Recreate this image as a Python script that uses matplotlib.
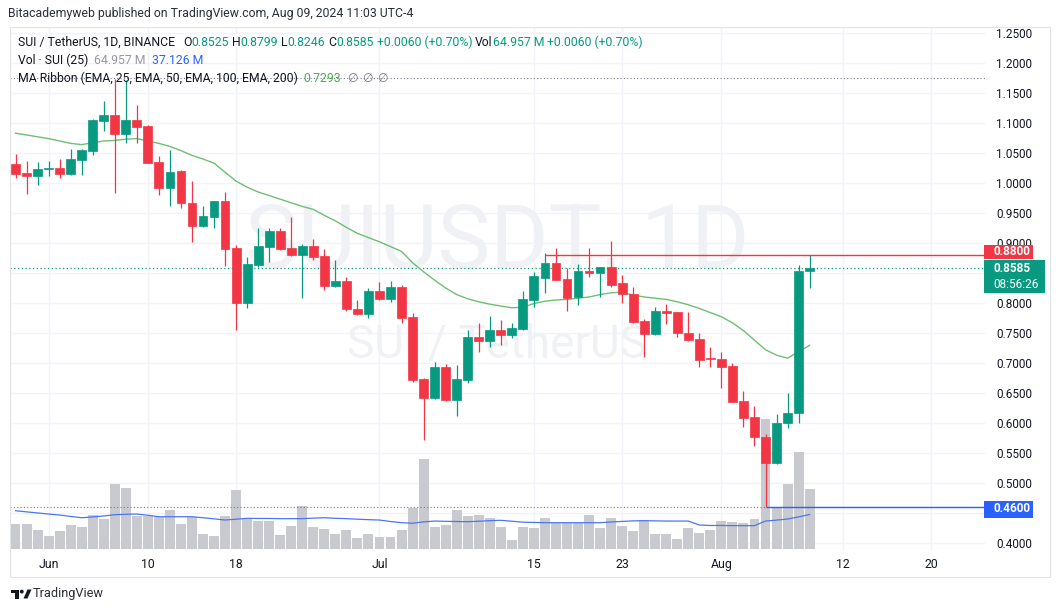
import numpy as np
import pandas as pd
import matplotlib
matplotlib.use("Agg")
import matplotlib.pyplot as plt
import matplotlib.dates as mdates
from matplotlib.patches import Rectangle, Circle, Polygon

plt.rcParams['font.family'] = ['Roboto', 'DejaVu Sans']

W, H = 1060, 612

# -------------------------------------------------
# DATA  (SUI / USDT, 1D, 2024-05-29 .. 2024-08-09)
# -------------------------------------------------
dates = pd.date_range('2024-05-29', periods=73, freq='D')

opens = [1.032, 1.016, 1.012, 1.023, 1.025, 1.015, 1.039, 1.054, 1.103, 1.113,
         1.081, 1.105, 1.095, 1.035, 0.992, 1.020, 0.966, 0.929, 0.944, 0.970,
         0.892, 0.800, 0.863, 0.894, 0.920, 0.891, 0.880, 0.895, 0.878, 0.828,
         0.837, 0.790, 0.781, 0.820, 0.807, 0.826, 0.777, 0.673, 0.641, 0.694,
         0.638, 0.672, 0.744, 0.737, 0.755, 0.747, 0.757, 0.805, 0.842, 0.867,
         0.840, 0.8105, 0.854, 0.8495, 0.8605, 0.833, 0.815, 0.7705, 0.748, 0.787,
         0.7855, 0.7495, 0.740, 0.708, 0.7067, 0.695, 0.6367, 0.610, 0.576, 0.533,
         0.6005, 0.617, 0.8525]

highs = [1.048, 1.037, 1.035, 1.037, 1.040, 1.057, 1.057, 1.106, 1.137, 1.174,
         1.171, 1.130, 1.097, 1.045, 1.055, 1.022, 1.004, 0.961, 0.970, 0.985,
         0.896, 0.877, 0.925, 0.925, 0.925, 0.943, 0.898, 0.906, 0.890, 0.872,
         0.844, 0.805, 0.825, 0.835, 0.837, 0.830, 0.783, 0.675, 0.701, 0.698,
         0.697, 0.755, 0.766, 0.778, 0.772, 0.766, 0.820, 0.851, 0.883, 0.892,
         0.858, 0.8645, 0.892, 0.8605, 0.903, 0.847, 0.826, 0.773, 0.793, 0.798,
         0.7855, 0.7855, 0.7495, 0.727, 0.718, 0.6995, 0.6533, 0.628, 0.581, 0.615,
         0.6495, 0.863, 0.8799]

lows = [1.009, 0.981, 0.996, 1.011, 1.009, 1.013, 1.013, 1.047, 1.087, 0.984,
        1.066, 1.066, 1.033, 0.980, 0.961, 0.959, 0.902, 0.927, 0.925, 0.862,
        0.755, 0.792, 0.860, 0.868, 0.888, 0.878, 0.808, 0.871, 0.821, 0.826,
        0.787, 0.780, 0.775, 0.805, 0.801, 0.767, 0.669, 0.572, 0.640, 0.637,
        0.612, 0.667, 0.719, 0.727, 0.730, 0.741, 0.755, 0.794, 0.816, 0.838,
        0.787, 0.797, 0.844, 0.8105, 0.827, 0.7995, 0.766, 0.7105, 0.747, 0.7645,
        0.744, 0.737, 0.694, 0.694, 0.658, 0.6345, 0.594, 0.562, 0.460, 0.532,
        0.591, 0.6005, 0.8246]

closes = [1.015, 1.012, 1.023, 1.025, 1.015, 1.040, 1.055, 1.1045, 1.113, 1.081,
          1.105, 1.094, 1.034, 0.992, 1.018, 0.966, 0.929, 0.945, 0.970, 0.890,
          0.800, 0.865, 0.895, 0.920, 0.890, 0.880, 0.895, 0.877, 0.829, 0.837,
          0.790, 0.781, 0.820, 0.807, 0.826, 0.775, 0.672, 0.642, 0.694, 0.638,
          0.673, 0.744, 0.737, 0.755, 0.747, 0.758, 0.807, 0.845, 0.867, 0.838,
          0.808, 0.854, 0.8495, 0.8605, 0.830, 0.8145, 0.769, 0.748, 0.787, 0.784,
          0.7495, 0.738, 0.705, 0.706, 0.694, 0.6355, 0.609, 0.576, 0.533, 0.6005,
          0.617, 0.8525, 0.8585]

# volume, millions of SUI
volumes = [26.8, 26.8, 20.3, 13.8, 19.2, 25.7, 23.5, 36.6, 32.2, 70.2,
           65.9, 35.5, 35.5, 34.7, 42.0, 26.8, 34.0, 15.9, 13.8, 35.5,
           63.7, 32.2, 30.1, 30.1, 14.9, 24.6, 46.3, 23.5, 21.4, 15.9,
           20.3, 11.6, 15.9, 12.7, 12.7, 20.3, 44.2, 97.3, 23.5, 25.7,
           42.0, 35.5, 36.6, 33.3, 23.5, 9.4, 23.5, 22.5, 33.3, 27.9,
           27.9, 27.9, 36.6, 22.5, 33.3, 24.6, 19.2, 30.7, 15.9, 15.9,
           10.5, 22.5, 17.0, 20.3, 30.1, 29.0, 27.9, 32.2, 140.7, 45.6,
           70.5, 104.9, 64.957]

# volume MA(25) as drawn
vol_ma = [41.2, 40.0, 38.8, 37.6, 36.5, 35.0, 33.6, 34.5, 35.5, 36.9,
          37.3, 37.6, 36.3, 34.7, 34.7, 34.7, 34.7, 33.6, 32.4, 31.1,
          32.0, 33.0, 32.8, 32.8, 32.6, 32.6, 32.6, 33.2, 33.6, 33.0,
          32.6, 32.0, 31.5, 31.1, 29.5, 28.2, 27.6, 29.1, 30.0, 29.7,
          29.5, 29.3, 29.8, 30.4, 30.8, 29.8, 28.8, 28.5, 28.2, 28.2,
          28.2, 28.2, 28.2, 28.2, 29.0, 29.6, 30.2, 30.4, 30.2, 30.0,
          30.0, 30.0, 25.7, 25.2, 25.2, 25.0, 25.0, 25.0, 30.0, 31.0,
          32.2, 34.5, 37.126]

# EMA 25 (MA Ribbon, only first EMA has values)
ema25 = [1.083, 1.080, 1.077, 1.074, 1.070, 1.066, 1.064, 1.067, 1.070, 1.071,
         1.073, 1.074, 1.070, 1.066, 1.061, 1.054, 1.046, 1.040, 1.033, 1.018,
         1.003, 0.993, 0.985, 0.979, 0.973, 0.967, 0.961, 0.956, 0.946, 0.937,
         0.926, 0.916, 0.909, 0.902, 0.894, 0.886, 0.867, 0.852, 0.838, 0.825,
         0.814, 0.807, 0.802, 0.798, 0.795, 0.792, 0.793, 0.799, 0.803, 0.805,
         0.806, 0.808, 0.810, 0.814, 0.817, 0.818, 0.813, 0.810, 0.808, 0.806,
         0.802, 0.797, 0.791, 0.784, 0.777, 0.767, 0.754, 0.738, 0.722, 0.713,
         0.708, 0.719, 0.7293]

price_ticks = [0.40, 0.45, 0.50, 0.55, 0.60, 0.65, 0.70, 0.75, 0.80, 0.85,
               0.90, 0.95, 1.00, 1.05, 1.10, 1.15, 1.20, 1.25]
date_ticks = ['2024-06-01', '2024-06-10', '2024-06-18', '2024-07-01', '2024-07-15',
              '2024-07-23', '2024-08-01', '2024-08-12', '2024-08-20']
date_labels = ['Jun', '10', '18', 'Jul', '15', '23', 'Aug', '12', '20']

resistance = 0.88      # red ray from Jul 16
support = 0.46         # blue ray from Aug 5
last_price = 0.8585
range_high = 1.175

# -------------------------------------------------
# STYLE
# -------------------------------------------------
GREEN = '#089981'
RED = '#f23645'
BLUE = '#2962ff'
DARK = '#131722'
GRID = '#f0f3fa'
FS = 8.8


def px_rect(l, t, r, b):
    return [l / W, 1 - b / H, (r - l) / W, (b - t) / H]


fig = plt.figure(figsize=(W / 100, H / 100), dpi=100)
fig.patch.set_facecolor('white')

rect = px_rect(10, 27, 985, 550)
ax_bg = fig.add_axes(rect, zorder=0)
ax_vol = fig.add_axes(rect, zorder=1, sharex=ax_bg)
ax = fig.add_axes(rect, zorder=2, sharex=ax_bg, sharey=ax_bg)

x = mdates.date2num(dates)
o = np.array(opens)
h = np.array(highs)
l = np.array(lows)
c = np.array(closes)
cols = np.where(c >= o, GREEN, RED)

x0 = x[0]
xr = x0 + 87.9
ax.set_xlim(x0 - 0.5, xr)
ax.set_ylim(0.3883, 1.26)
ax_vol.set_ylim(-1.41, 566.1)

# grid + watermark on the bottom axes
ax_bg.set_yticks(price_ticks)
ax_bg.grid(True, color=GRID, linewidth=1)
ax_bg.tick_params(left=False, bottom=False, labelleft=False, labelbottom=False)
for s in ax_bg.spines.values():
    s.set_visible(False)
ax_bg.text(0.4995, 0.587, 'SUIUSDT, 1D', transform=ax_bg.transAxes, ha='center', va='center',
           fontsize=64, color='#eff1f4')
ax_bg.text(0.4995, 0.392, 'SUI / TetherUS', transform=ax_bg.transAxes, ha='center', va='center',
           fontsize=33, color='#eff1f4')

# volume
ax_vol.patch.set_visible(False)
ax_vol.bar(x, volumes, width=0.9, color='#c9cacf', zorder=2)
ax_vol.plot(x, vol_ma, color='#4a76f2', linewidth=0.9, zorder=3)
ax_vol.axis('off')

# price
ax.patch.set_visible(False)
for s in ax.spines.values():
    s.set_visible(False)
ax.plot(x, ema25, color='#6fbf73', linewidth=1.0, zorder=2)
ax.vlines(x, l, h, colors=cols, linewidth=0.9, zorder=3)
ax.bar(x, np.abs(c - o), bottom=np.minimum(o, c), width=0.8, color=cols,
       edgecolor=cols, linewidth=0.5, zorder=4)

ax.axhline(range_high, color='#787b86', linewidth=0.8, linestyle=(0, (1, 2)), zorder=1)
ax.axhline(support, color='#787b86', linewidth=0.8, linestyle=(0, (1, 2)), zorder=1)
ax.axhline(last_price, color=GREEN, linewidth=0.9, linestyle=(0, (1, 2)), zorder=1)
ax.hlines(resistance, x[48], xr, color=RED, linewidth=1.0, zorder=5)
ax.hlines(support, x[68], xr, color=BLUE, linewidth=1.0, zorder=5)

# 0.8500 sits fully under the live-price tag, so it is not printed
ax.yaxis.tick_right()
ax.set_yticks(price_ticks)
ax.set_yticklabels(['' if abs(v - 0.85) < 1e-9 else f'{v:.4f}' for v in price_ticks])
ax.set_xticks(mdates.date2num(pd.to_datetime(date_ticks)))
ax.set_xticklabels(date_labels)
ax.tick_params(axis='y', length=0, pad=8, labelsize=8.5, labelcolor=DARK)
ax.tick_params(axis='x', length=0, pad=6, labelsize=FS, labelcolor=DARK)
ax.set_xlim(x0 - 0.5, xr)

# -------------------------------------------------
# OVERLAY (pixel coordinates): frame, header, legend, tags, logo
# -------------------------------------------------
ov = fig.add_axes([0, 0, 1, 1], zorder=10)
ov.set_xlim(0, W)
ov.set_ylim(H, 0)
ov.axis('off')
ov.patch.set_visible(False)

ov.add_patch(Rectangle((10, 27), 1040, 550, fill=False, edgecolor='#e0e3eb', linewidth=0.8))

ov.text(8, 14, 'Bitacademyweb published on TradingView.com, Aug 09, 2024 11:03 UTC-4',
        fontsize=FS, color='#2a2e39', va='center', ha='left')

renderer = fig.canvas.get_renderer()


def draw_runs(x_px, y_px, runs, size=FS):
    xx = x_px
    for txt, col, gap in runs:
        t = ov.text(xx, y_px, txt, color=col, fontsize=size, va='center', ha='left')
        bb = t.get_window_extent(renderer)
        xx += bb.width + gap


draw_runs(18, 42, [('SUI / TetherUS, 1D, BINANCE', DARK, 8),
                   ('O', DARK, 0), ('0.8525', GREEN, 3),
                   ('H', DARK, 0), ('0.8799', GREEN, 3),
                   ('L', DARK, 0), ('0.8246', GREEN, 3),
                   ('C', DARK, 0), ('0.8585', GREEN, 3),
                   ('+0.0060 (+0.70%)', GREEN, 3),
                   ('Vol', DARK, 0), ('64.957 M', GREEN, 3),
                   ('+0.0060 (+0.70%)', GREEN, 0)])
draw_runs(18, 60, [('Vol · SUI (25)', DARK, 6), ('64.957 M', '#9598a1', 6),
                   ('37.126 M', BLUE, 0)])
draw_runs(18, 78, [('MA Ribbon (EMA, 25, EMA, 50, EMA, 100, EMA, 200)', DARK, 5),
                   ('0.7293', '#4caf50', 7), ('∅', '#787b86', 4),
                   ('∅', '#787b86', 4), ('∅', '#787b86', 0)])

# price tags
ov.add_patch(Rectangle((984, 244.5), 49, 14, facecolor=RED, edgecolor='none'))
ov.text(993, 251.5, '0.8800', color='white', fontsize=8.5, fontweight='bold', va='center')
ov.add_patch(Rectangle((984, 260), 61, 33, facecolor=GREEN, edgecolor='none'))
ov.text(993, 268.5, '0.8585', color='white', fontsize=8.5, fontweight='bold', va='center')
ov.text(993, 284, '08:56:26', color='white', fontsize=8.5, va='center')
ov.add_patch(Rectangle((984, 500.5), 49, 17, facecolor=BLUE, edgecolor='none'))
ov.text(993, 509, '0.4600', color='white', fontsize=8.5, fontweight='bold', va='center')

# TradingView logo + name
ov.add_patch(Rectangle((10.5, 589.5), 8.5, 3.5, facecolor='#131722', edgecolor='none'))
ov.add_patch(Rectangle((14.5, 589.5), 4.5, 9, facecolor='#131722', edgecolor='none'))
ov.add_patch(Circle((21.8, 591.6), 1.9, facecolor='#131722', edgecolor='none'))
ov.add_patch(Polygon([(23.5, 598.5), (27.5, 589.5), (31.5, 589.5), (27.5, 598.5)],
                     closed=True, facecolor='#131722', edgecolor='none'))
ov.text(33, 594, 'TradingView', fontsize=9.2, color='#2a2e39', va='center', ha='left')

fig.savefig('out.png', dpi=100, facecolor='white')
